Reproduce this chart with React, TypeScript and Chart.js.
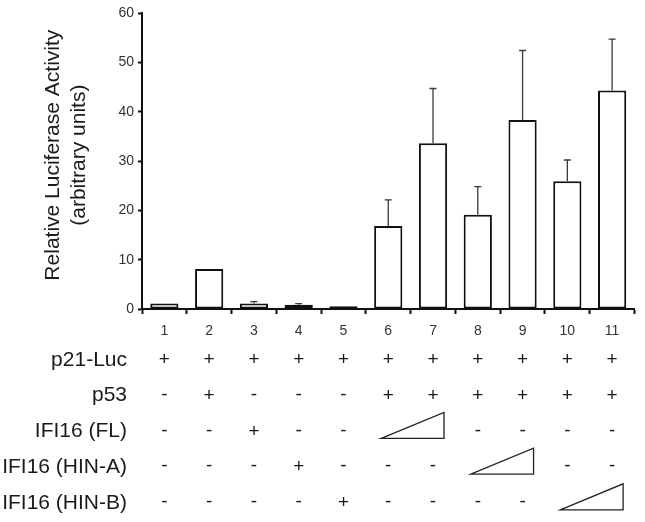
import React, { useEffect, useRef } from 'react';
import { Chart, registerables } from 'chart.js';

Chart.register(...registerables);

// ---- data ----
const lanes = ['1', '2', '3', '4', '5', '6', '7', '8', '9', '10', '11'];
const activity = [1.1, 8.1, 1.1, 0.85, 0.55, 16.8, 33.6, 19.1, 38.3, 25.9, 44.3];
const errorUp = [0, 0, 0.4, 0.25, 0, 5.3, 11.1, 5.7, 14.1, 4.3, 10.4];
const yMin = 0;
const yMax = 60;
const yStep = 10;

const rowLabels = ['p21-Luc', 'p53', 'IFI16 (FL)', 'IFI16 (HIN-A)', 'IFI16 (HIN-B)'];
// '/' marks a cell covered by an increasing-dose wedge
const p21Luc = ['+', '+', '+', '+', '+', '+', '+', '+', '+', '+', '+'];
const p53 = ['-', '+', '-', '-', '-', '+', '+', '+', '+', '+', '+'];
const ifi16FL = ['-', '-', '+', '-', '-', '/', '/', '-', '-', '-', '-'];
const ifi16HinA = ['-', '-', '-', '+', '-', '-', '-', '/', '/', '-', '-'];
const ifi16HinB = ['-', '-', '-', '-', '+', '-', '-', '-', '-', '/', '/'];
const tableRows = [p21Luc, p53, ifi16FL, ifi16HinA, ifi16HinB];

const yTitle = ['  Relative Luciferase Activity', '  (arbitrary units)'];

// ---- styling / layout ----
const FONT = '"Liberation Sans", Arial, Helvetica, sans-serif';
const NARROW = '"Liberation Sans Narrow", "Arial Narrow", "Liberation Sans", Arial, sans-serif';
const INK = '#1a1a1a';

const errorBarPlugin = {
  id: 'errorBars',
  afterDatasetsDraw(chart: any) {
    const { ctx } = chart;
    const xs = chart.scales.x;
    const ys = chart.scales.y;
    ctx.save();
    ctx.strokeStyle = '#3a3a3a';
    ctx.lineWidth = 1.3;
    activity.forEach((v, i) => {
      const e = errorUp[i];
      if (!e) return;
      const cx = xs.getPixelForValue(i);
      const yTop = ys.getPixelForValue(v + e);
      const yBar = ys.getPixelForValue(v);
      ctx.beginPath();
      ctx.moveTo(cx, yBar);
      ctx.lineTo(cx, yTop);
      ctx.moveTo(cx - 3.5, yTop);
      ctx.lineTo(cx + 3.5, yTop);
      ctx.stroke();
    });
    ctx.restore();
  },
};

const tablePlugin = {
  id: 'conditionTable',
  afterDraw(chart: any) {
    const { ctx, chartArea } = chart;
    const xs = chart.scales.x;
    const base = chartArea.bottom;
    ctx.save();
    tableRows.forEach((row, r) => {
      const y = base + 51 + r * 35.7;
      ctx.fillStyle = INK;
      ctx.textBaseline = 'middle';
      ctx.textAlign = 'right';
      ctx.font = `21px ${FONT}`;
      ctx.fillText(rowLabels[r], chartArea.left - 15, y);
      ctx.textAlign = 'center';
      ctx.font = `19px ${FONT}`;
      let i = 0;
      while (i < row.length) {
        if (row[i] === '/') {
          let j = i;
          while (j + 1 < row.length && row[j + 1] === '/') j++;
          const x0 = xs.getPixelForValue(i) - 7;
          const x1 = xs.getPixelForValue(j) + 11;
          const yb = y + 7;
          const yt = y - 19;
          ctx.beginPath();
          ctx.moveTo(x0, yb);
          ctx.lineTo(x1, yb);
          ctx.lineTo(x1, yt);
          ctx.closePath();
          ctx.fillStyle = '#ffffff';
          ctx.fill();
          ctx.strokeStyle = '#222';
          ctx.lineWidth = 1.3;
          ctx.stroke();
          ctx.fillStyle = INK;
          i = j + 1;
          continue;
        }
        ctx.fillText(row[i], xs.getPixelForValue(i), row[i] === '-' ? y - 1 : y);
        i++;
      }
    });
    ctx.restore();
  },
};

export default function App() {
  const canvasRef = useRef<HTMLCanvasElement | null>(null);

  useEffect(() => {
    if (!canvasRef.current) return;
    const chart = new Chart(canvasRef.current, {
      type: 'bar',
      data: {
        labels: lanes,
        datasets: [
          {
            data: activity,
            backgroundColor: '#ffffff',
            borderColor: '#111111',
            borderWidth: 2,
            borderSkipped: false,
            barPercentage: 0.63,
            categoryPercentage: 1,
          },
        ],
      },
      options: {
        responsive: false,
        animation: false,
        events: [],
        layout: { padding: { top: 13, right: 10.5, left: 0, bottom: 0 } },
        plugins: {
          legend: { display: false },
          tooltip: { enabled: false },
          title: { display: false },
        },
        scales: {
          x: {
            afterFit: (scale: any) => {
              scale.height = 213;
            },
            border: { display: true, color: '#111', width: 2 },
            grid: {
              display: true,
              offset: true,
              drawOnChartArea: false,
              drawTicks: true,
              tickLength: 5,
              tickWidth: 2,
              tickColor: '#111',
            },
            ticks: {
              color: '#333',
              font: { family: NARROW, size: 14 },
              padding: 9,
              maxRotation: 0,
            },
          },
          y: {
            min: yMin,
            max: yMax,
            afterFit: (scale: any) => {
              scale.width = 142;
            },
            border: { display: true, color: '#111', width: 2 },
            grid: {
              display: true,
              drawOnChartArea: false,
              drawTicks: true,
              tickLength: 4,
              tickWidth: 2,
              tickColor: '#111',
            },
            ticks: {
              stepSize: yStep,
              color: '#333',
              font: { family: NARROW, size: 14 },
              padding: 4,
            },
            title: {
              display: true,
              text: yTitle,
              color: INK,
              font: { family: FONT, size: 21, lineHeight: 1.24 },
              padding: { top: 40, bottom: 0 },
            },
          },
        },
      },
      plugins: [errorBarPlugin, tablePlugin],
    });
    return () => chart.destroy();
  }, []);

  return (
    <div style={{ position: 'absolute', left: 0, top: 0, width: 645, height: 522, background: '#fff' }}>
      <canvas ref={canvasRef} width={645} height={522} style={{ display: 'block' }} />
    </div>
  );
}
